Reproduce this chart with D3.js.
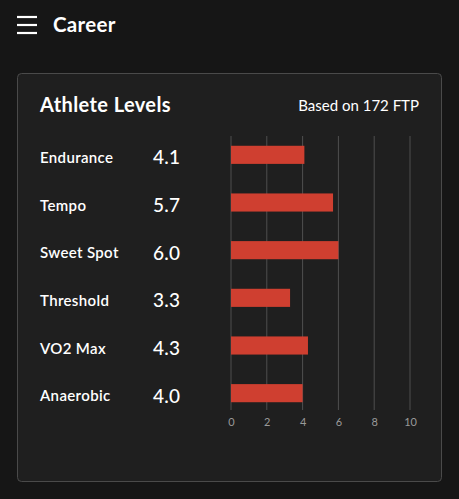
<!DOCTYPE html>
<html><head><meta charset="utf-8">
<script src="https://cdn.jsdelivr.net/npm/d3@7"></script>
<style>
html,body{margin:0;padding:0;background:#161616;}
svg{display:block;font-family:Lato,"Open Sans",sans-serif;}
</style></head>
<body>
<svg id="c" width="459" height="499"></svg>
<script>
const categories = ["Endurance","Tempo","Sweet Spot","Threshold","VO2 Max","Anaerobic"];
const values = [4.1, 5.7, 6.0, 3.3, 4.3, 4.0];
const valueLabels = ["4.1","5.7","6.0","3.3","4.3","4.0"];
const ticks = [0,2,4,6,8,10];

const svg = d3.select("#c");
svg.append("rect").attr("width",459).attr("height",499).attr("fill","#161616");

// header
const hb = svg.append("g").attr("stroke","#ffffff").attr("stroke-width",2.2);
[17,25,33].forEach(y=>hb.append("line").attr("x1",17).attr("x2",37).attr("y1",y).attr("y2",y));
svg.append("text").attr("x",53).attr("y",32).attr("fill","#fff").attr("font-size",20.5).attr("font-weight",700).attr("letter-spacing",0.3).text("Career");

// card
svg.append("rect").attr("x",17.5).attr("y",73.5).attr("width",424).attr("height",408).attr("rx",4)
  .attr("fill","#1f1f1f").attr("stroke","#4a4a4a").attr("stroke-width",1);
svg.append("text").attr("x",40).attr("y",112).attr("fill","#fff").attr("font-size",20).attr("font-weight",700).attr("letter-spacing",0.4).text("Athlete Levels");
svg.append("text").attr("x",419).attr("y",111).attr("text-anchor","end").attr("fill","#fff").attr("font-size",15).text("Based on 172 FTP");

const x = d3.scaleLinear().domain([0,10]).range([231,410]);
const y = d3.scaleBand().domain(categories).range([131,417]).paddingInner(0.62).paddingOuter(0.31);

// grid
const axis = d3.axisBottom(x).tickValues(ticks).tickSize(0).tickPadding(8);
const ag = svg.append("g").attr("transform","translate(0,410)").call(axis);
ag.select(".domain").remove();
ag.selectAll("text").attr("fill","#9a9a9a").attr("font-size",11).attr("font-family","Lato,sans-serif");
svg.append("g").selectAll("line").data(ticks).join("line")
  .attr("x1",d=>x(d)).attr("x2",d=>x(d)).attr("y1",136).attr("y2",410)
  .attr("stroke","#4f4f4f").attr("stroke-width",1);

// bars
svg.append("g").selectAll("rect").data(values).join("rect")
  .attr("x",x(0)).attr("y",(d,i)=>y(categories[i]))
  .attr("width",d=>x(d)-x(0)).attr("height",y.bandwidth())
  .attr("fill","#cf3f30");

// labels
svg.append("g").selectAll("text").data(categories).join("text")
  .attr("x",40).attr("y",d=>y(d)+y.bandwidth()/2+8)
  .attr("fill","#fff").attr("font-size",15).attr("font-weight",600).attr("letter-spacing",0.35).text(d=>d);
svg.append("g").selectAll("text").data(valueLabels).join("text")
  .attr("x",153).attr("y",(d,i)=>y(categories[i])+y.bandwidth()/2+9.5)
  .attr("fill","#fff").attr("font-size",19).attr("font-weight",500).attr("letter-spacing",0.3).text(d=>d);
</script>
</body></html>
